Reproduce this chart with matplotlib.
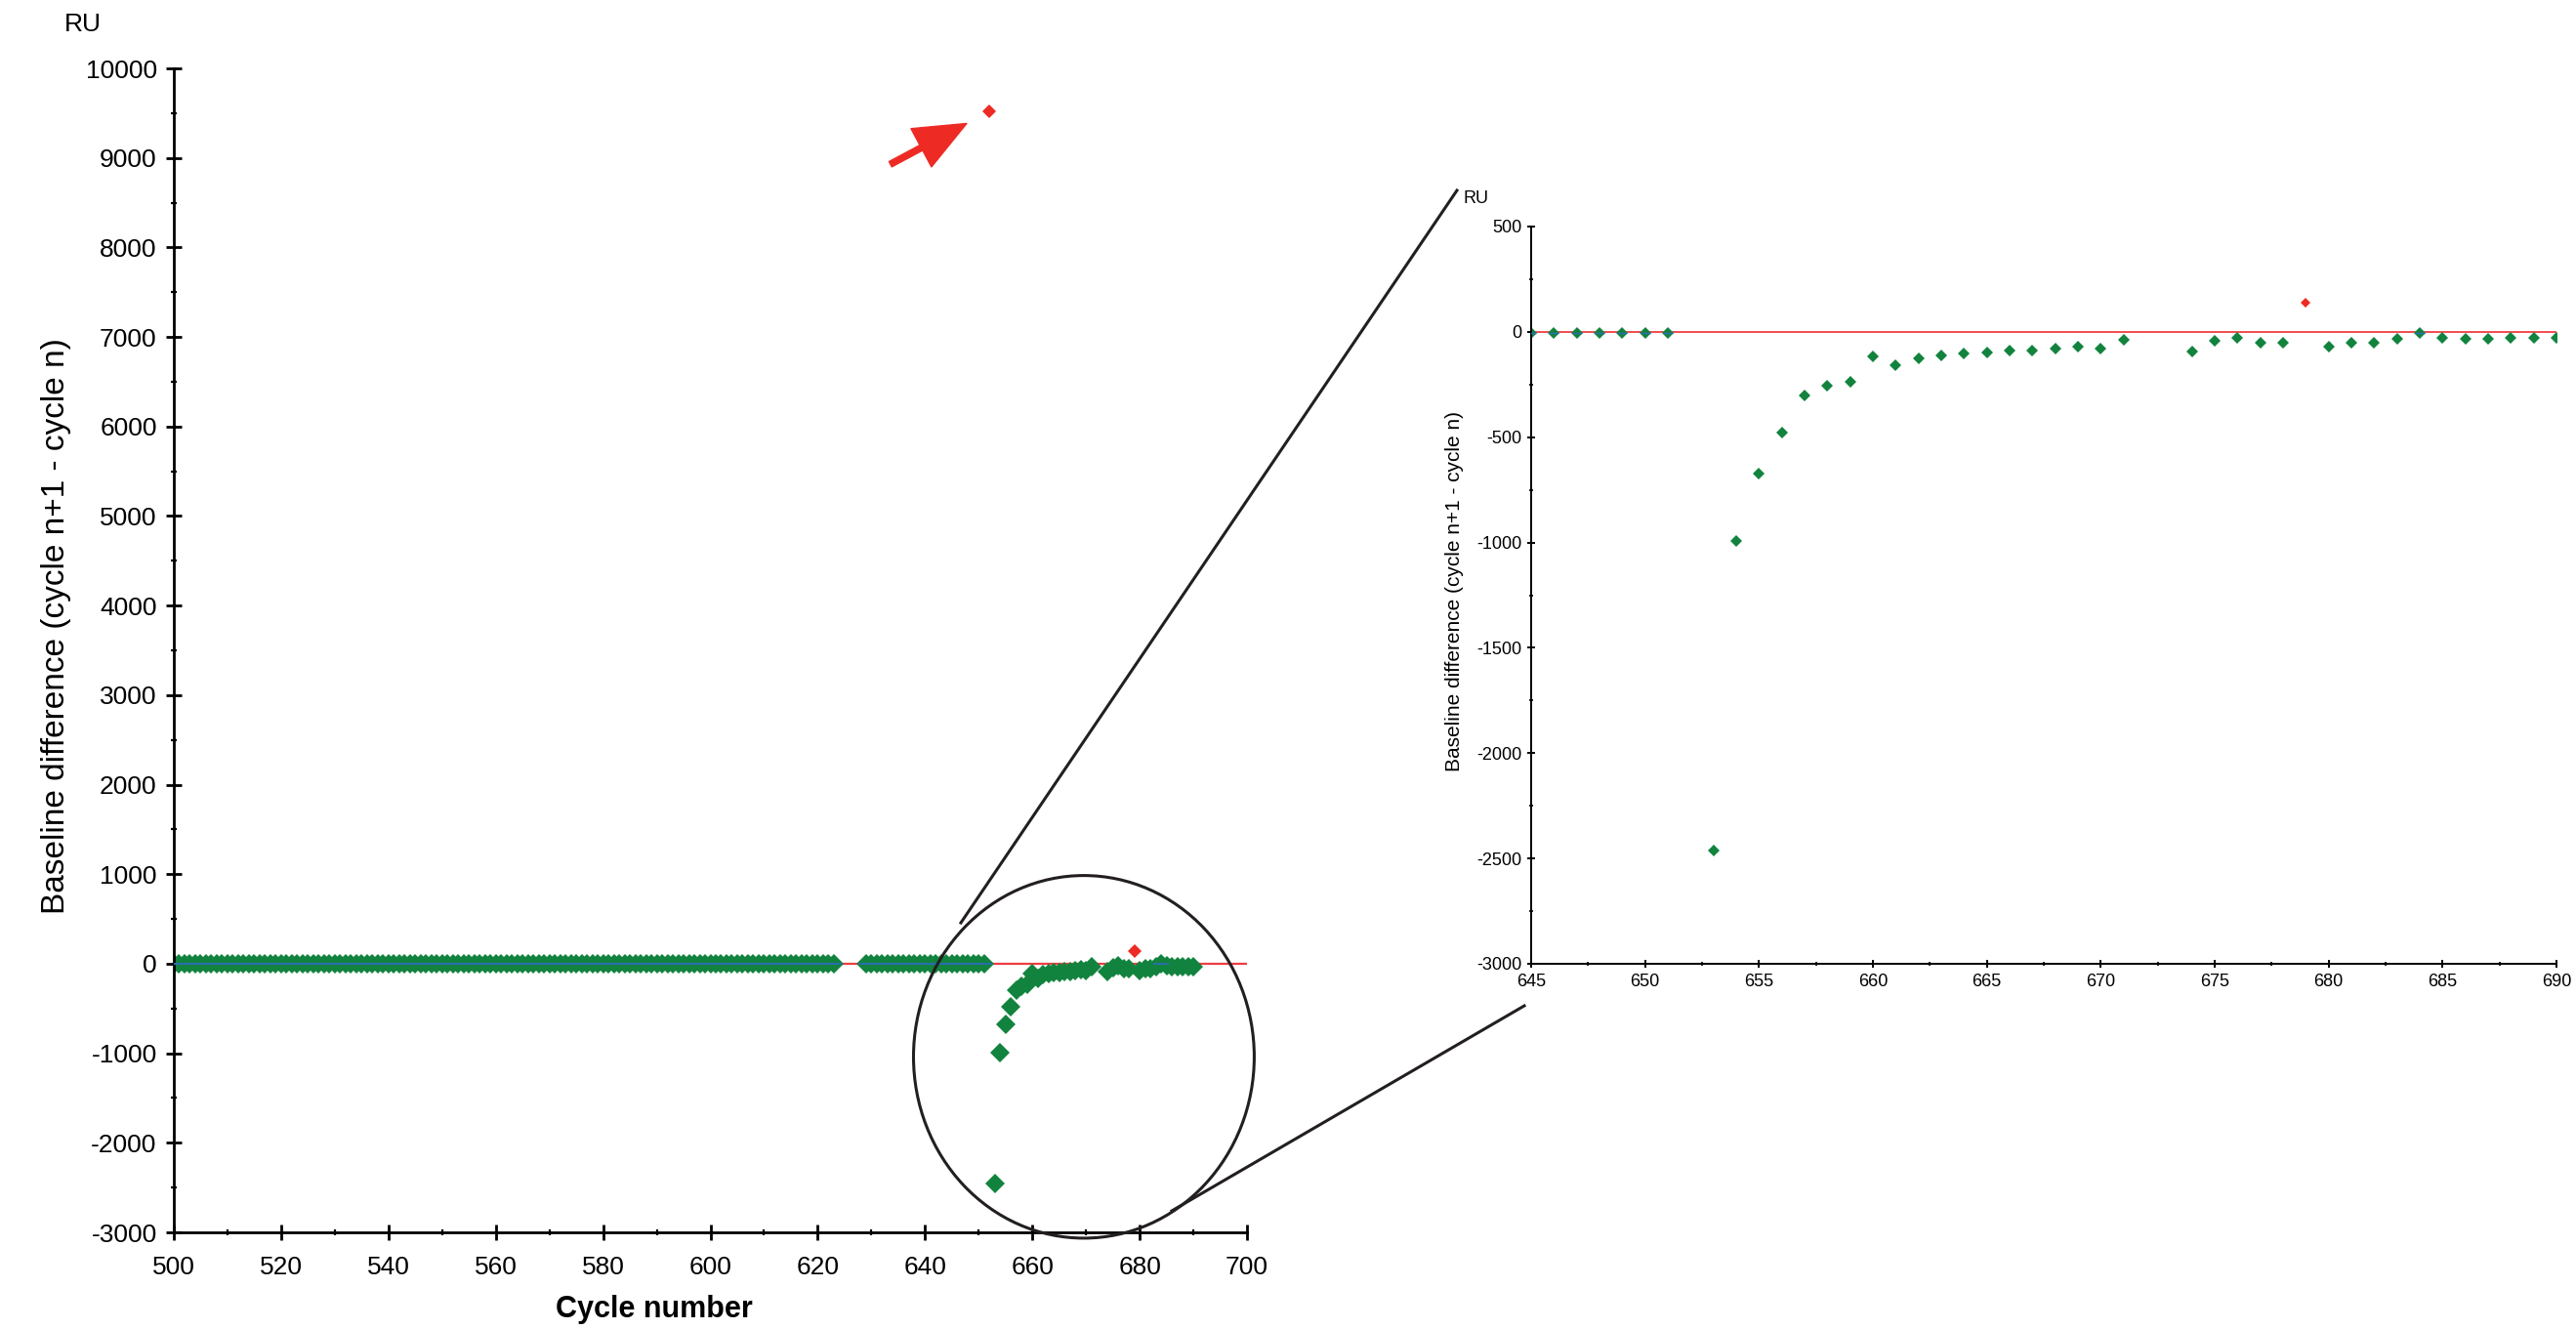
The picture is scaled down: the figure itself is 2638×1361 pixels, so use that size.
import matplotlib.pyplot as plt
from matplotlib.patches import Ellipse
from matplotlib.lines import Line2D
from matplotlib.ticker import MultipleLocator

plt.rcParams['font.family'] = ['Liberation Sans', 'DejaVu Sans']
plt.rcParams['axes.unicode_minus'] = False

# ciclos con linea base estable (diferencia ~0)
ciclos_estables = list(range(500, 624)) + list(range(629, 652))
dif_estables = [
    -5, -5, -5, -5, -5, -5, -5, -5, -5, -5, -5, -5, -5, -5, -5, -5, -5, -5, -5, -5,
    -5, -5, -5, -5, -5, -5, -5, -5, -5, -5, -5, -5, -5, -5, -5, -5, -5, -5, -5, -5,
    -5, -5, -5, -5, -5, -5, -5, -5, -5, -5, -5, -5, -5, -5, -5, -5, -5, -5, -5, -5,
    -5, -5, -5, -5, -5, -5, -5, -5, -5, -5, -5, -5, -5, -5, -5, -5, -5, -5, -5, -5,
    -5, -5, -5, -5, -5, -5, -5, -5, -5, -5, -5, -5, -5, -5, -5, -5, -5, -5, -5, -5,
    -5, -5, -5, -5, -5, -5, -5, -5, -5, -5, -5, -5, -5, -5, -5, -5, -5, -5, -5, -5,
    -5, -5, -5, -5,
    -5, -5, -5, -5, -5, -5, -5, -5, -5, -5, -5, -5, -5, -5, -5, -5, -5, -5, -5, -5,
    -5, -5, -5,
]

# ciclos despues de la caida
ciclos_caida = [653, 654, 655, 656, 657, 658, 659, 660, 661, 662, 663, 664, 665,
                666, 667, 668, 669, 670, 671, 674, 675, 676, 677, 678, 680, 681,
                682, 683, 684, 685, 686, 687, 688, 689, 690]
dif_caida = [-2460, -995, -675, -478, -300, -255, -235, -115, -160, -125, -110,
             -103, -100, -90, -90, -78, -70, -78, -38, -92, -42, -28, -50, -50,
             -72, -50, -50, -35, -3, -28, -35, -35, -30, -30, -30]

# puntos marcados en rojo
ciclos_rojos = [652, 679]
dif_rojos = [9520, 140]

VERDE = '#12833e'
ROJO = '#ee2a24'
AZUL = '#2a6db5'
NEGRO = '#231f20'

W, H = 2638, 1361
fig = plt.figure(figsize=(W / 100, H / 100), dpi=100)

# cerca de cero se ve la linea azul
ciclos_cero = ciclos_estables + [c for c, d in zip(ciclos_caida, dif_caida) if abs(d) < 10]
dif_cero = dif_estables + [d for d in dif_caida if abs(d) < 10]


def dibujar(ax, ms, ms_rojo, lw_cero):
    ax.axhline(0, color='#ef3e42', lw=lw_cero, zorder=1)
    ax.plot(ciclos_estables, dif_estables, 'D', color=VERDE, ms=ms, mew=0, zorder=2)
    ax.plot(ciclos_caida, dif_caida, 'D', color=VERDE, ms=ms, mew=0, zorder=2)
    ax.plot(ciclos_cero, dif_cero, '_', color=AZUL, ms=ms * 1.1, mew=lw_cero * 0.8, zorder=3)
    ax.plot(ciclos_rojos, dif_rojos, 'D', color=ROJO, ms=ms_rojo, mew=0, zorder=3)
    for s in ['top', 'right']:
        ax.spines[s].set_visible(False)


# grafico principal
ax = fig.add_axes([178 / W, 1 - 1262 / H, (1277 - 178) / W, (1262 - 70) / H])
dibujar(ax, 10, 7.5, 1.6)
ax.set_xlim(500, 700)
ax.set_ylim(-3000, 10000)
ax.xaxis.set_major_locator(MultipleLocator(20))
ax.xaxis.set_minor_locator(MultipleLocator(10))
ax.yaxis.set_major_locator(MultipleLocator(1000))
ax.yaxis.set_minor_locator(MultipleLocator(500))
for s in ['left', 'bottom']:
    ax.spines[s].set_linewidth(2.0)
ax.tick_params(which='major', direction='inout', length=11, width=2, labelsize=19, pad=7)
ax.tick_params(which='minor', direction='inout', length=5, width=1.6)
ax.tick_params(axis='x', which='major', pad=12)
ax.set_xlabel('Cycle number', fontsize=22, fontweight='bold')
ax.xaxis.set_label_coords(0.448, -0.066)
ax.xaxis.label.set_va('center')
ax.set_ylabel('Baseline difference (cycle n+1 - cycle n)', fontsize=24)
ax.yaxis.set_label_coords(-0.11, 0.521)
ax.yaxis.label.set_va('center')
fig.text(85 / W, 1 - 25 / H, 'RU', fontsize=19, ha='center', va='center')

ax.annotate('', xy=(ciclos_rojos[0], dif_rojos[0]), xytext=(-73, -39),
            textcoords='offset points',
            arrowprops=dict(arrowstyle='simple,head_length=1.9,head_width=1.6,tail_width=0.22',
                            mutation_scale=20, color=ROJO, shrinkA=0, shrinkB=19))

ax.add_patch(Ellipse((669.6, -1040), 63.5, 4050, fill=False, ec=NEGRO, lw=2.2,
                     clip_on=False, zorder=5))

# recuadro ampliado
axi = fig.add_axes([1568 / W, 1 - 987 / H, (2618 - 1568) / W, (987 - 232) / H])
dibujar(axi, 6.5, 5.5, 1.3)
axi.set_xlim(645, 690)
axi.set_ylim(-3000, 500)
axi.xaxis.set_major_locator(MultipleLocator(5))
axi.xaxis.set_minor_locator(MultipleLocator(2.5))
axi.yaxis.set_major_locator(MultipleLocator(500))
axi.yaxis.set_minor_locator(MultipleLocator(250))
for s in ['left', 'bottom']:
    axi.spines[s].set_linewidth(1.4)
axi.tick_params(which='major', direction='inout', length=6, width=1.4, labelsize=13, pad=4)
axi.tick_params(which='minor', direction='inout', length=3, width=1.2)
axi.set_ylabel('Baseline difference (cycle n+1 - cycle n)', fontsize=15)
axi.yaxis.set_label_coords(-0.0744, 0.505)
axi.yaxis.label.set_va('center')
fig.text(1512 / W, 1 - 204 / H, 'RU', fontsize=13, ha='center', va='center')

# lineas de zoom
fig.add_artist(Line2D([984 / W, 1492 / W], [1 - 945 / H, 1 - 195 / H],
                      transform=fig.transFigure, color=NEGRO, lw=2.2))
fig.add_artist(Line2D([1200 / W, 1561 / W], [1 - 1240 / H, 1 - 1030 / H],
                      transform=fig.transFigure, color=NEGRO, lw=2.2))

fig.savefig('out.png', dpi=100)
